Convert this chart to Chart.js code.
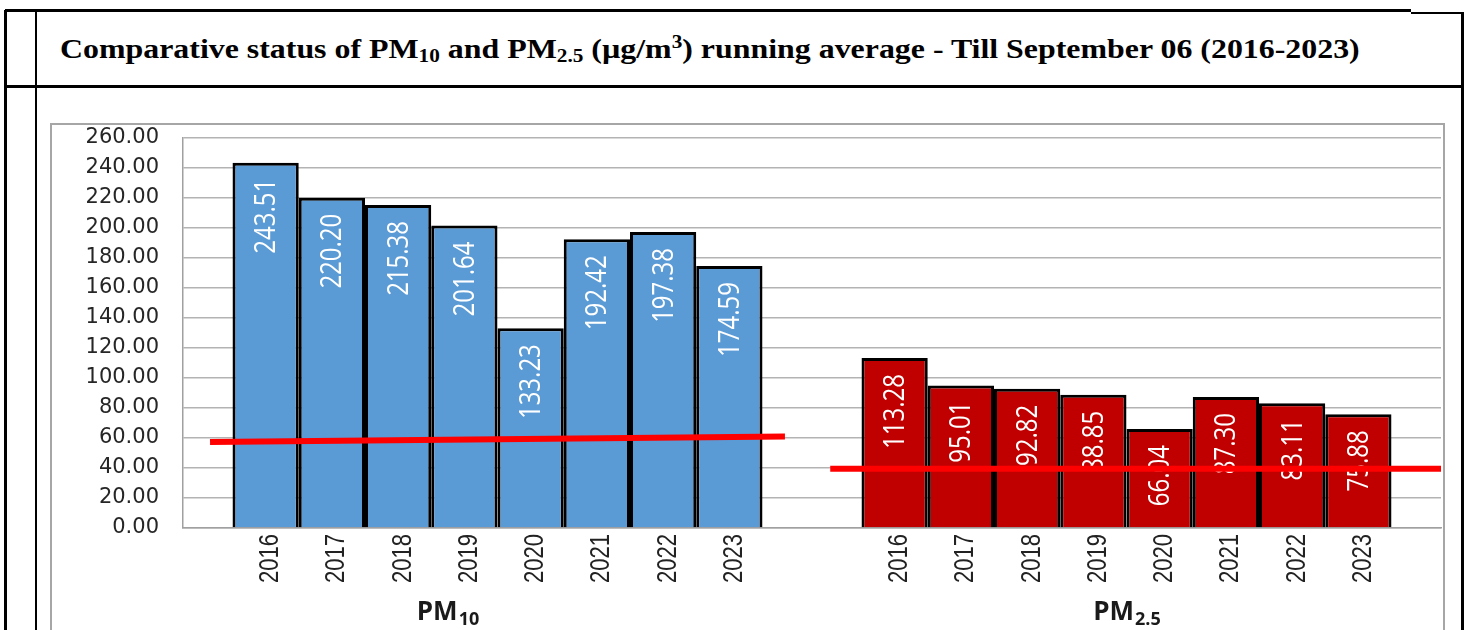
<!DOCTYPE html>
<html>
<head>
<meta charset="utf-8">
<script src="https://cdn.jsdelivr.net/npm/chart.js@4/dist/chart.umd.min.js"></script>
<style>
    body { margin: 0; background: #fff; width: 1464px; height: 630px; overflow: hidden; position: relative; }
    .ln { position: absolute; background: #000; }
    #title {
        position: absolute; left: 60px; top: 34px; white-space: nowrap; transform-origin: 0 0;
        font-family: "Liberation Serif", "Times New Roman", serif; font-weight: bold; font-size: 27px; color: #000;
    }
    #title sub { font-size: 18px; vertical-align: -4px; line-height: 0; }
    #title sup { font-size: 18px; vertical-align: 10px; line-height: 0; }
    #box { position: absolute; left: 50px; top: 123px; width: 1391px; height: 520px; border: 2px solid #a6a6a6; }
    #chartCanvas { position: absolute; left: 51px; top: 125px; }
</style>
</head>
<body>
<!-- table frame -->
<div class="ln" style="left:5px; top:9px; width:1406px; height:3px;"></div>
<div class="ln" style="left:1411px; top:12px; width:53px; height:2px;"></div>
<div class="ln" style="left:4px; top:10px; width:3px; height:620px;"></div>
<div class="ln" style="left:35px; top:12px; width:2px; height:618px;"></div>
<div class="ln" style="left:1461px; top:12px; width:3px; height:618px;"></div>
<div class="ln" style="left:5px; top:85px; width:1459px; height:3px;"></div>

<div id="title">Comparative status of PM<sub>10</sub> and PM<sub>2.5</sub> (µg/m<sup>3</sup>) running average - Till September 06 (2016-2023)</div>

<div id="box"></div>
<canvas id="chartCanvas" width="1391" height="505"></canvas>

<script>
// ==================== Data ====================
const years = ['2016', '2017', '2018', '2019', '2020', '2021', '2022', '2023'];
const groups = ['PM10', 'PM2.5'];
const pm10Values = [243.51, 220.20, 215.38, 201.64, 133.23, 192.42, 197.38, 174.59];
const pm25Values = [113.28, 95.01, 92.82, 88.85, 66.04, 87.30, 83.11, 75.88];
const yTicks = { min: 0, max: 260, step: 20 };

// red standard lines: x in category units (-0.5 .. 1.5), y in µg/m3
const pm10LimitX = [-0.457, 0.457];
const pm10LimitY = [57.3, 61.0];
const pm25LimitX = [0.529, 1.5];
const pm25LimitY = [39.5, 39.5];

const groupColors = ['#5b9bd5', '#c00000'];

// stretch the title to the width it has in the original
const titleEl = document.getElementById('title');
titleEl.style.transform = 'scaleX(' + (1300 / titleEl.offsetWidth) + ')';

// rotated text, stretched across its height like in the original picture
function drawRotated(ctx, text, x, y, font, color, stretch) {
    ctx.save();
    ctx.translate(x, y);
    ctx.rotate(-Math.PI / 2);
    ctx.scale(1, stretch);
    ctx.font = font;
    ctx.fillStyle = color;
    ctx.textAlign = 'right';
    ctx.textBaseline = 'middle';
    ctx.fillText(text, 0, 0);
    ctx.restore();
}

const overlayPlugin = {
    id: 'overlay',
    // value labels inside each bar, drawn right after the bar
    afterDatasetDraw(chart, args) {
        const ds = chart.data.datasets[args.index];
        args.meta.data.forEach((bar, j) => {
            drawRotated(chart.ctx, ds.data[j].toFixed(2), bar.x + 1, bar.y + 16, '24px "Open Sans"', '#ffffff', 1.25);
        });
    },
    // red standard lines on top of bars and labels
    afterDatasetsDraw(chart) {
        const ctx = chart.ctx;
        const xs = chart.scales.x, ys = chart.scales.y;
        ctx.save();
        ctx.strokeStyle = '#ff0000';
        ctx.lineWidth = 6;
        ctx.lineCap = 'butt';
        [[pm10LimitX, pm10LimitY], [pm25LimitX, pm25LimitY]].forEach(([lx, ly]) => {
            ctx.beginPath();
            lx.forEach((v, k) => {
                const px = xs.getPixelForValue(v), py = ys.getPixelForValue(ly[k]);
                if (k === 0) ctx.moveTo(px, py); else ctx.lineTo(px, py);
            });
            ctx.stroke();
        });
        ctx.restore();
    },
    afterDraw(chart) {
        const ctx = chart.ctx;
        const area = chart.chartArea;

        // year labels under each bar
        chart.data.datasets.forEach((ds, i) => {
            chart.getDatasetMeta(i).data.forEach(bar => {
                drawRotated(ctx, ds.label, bar.x + 5, area.bottom + 6, '22px "Liberation Sans"', '#222', 1.22);
            });
        });

        // group labels with subscript
        const xScale = chart.scales.x;
        const shifts = [-50, 0];
        groups.forEach((g, j) => {
            const main = 'PM';
            const sub = g.slice(2);
            ctx.save();
            ctx.fillStyle = '#1a1a1a';
            ctx.textBaseline = 'alphabetic';
            ctx.textAlign = 'left';
            ctx.font = 'bold 26px "Open Sans"';
            const w1 = ctx.measureText(main).width;
            ctx.font = 'bold 18px "Open Sans"';
            const w2 = ctx.measureText(sub).width;
            const cx = xScale.getPixelForValue(j) + shifts[j];
            const x0 = cx - (w1 + w2) / 2;
            const base = area.bottom + 92;
            ctx.font = 'bold 26px "Open Sans"';
            ctx.fillText(main, x0, base);
            ctx.font = 'bold 18px "Open Sans"';
            ctx.fillText(sub, x0 + w1 + 1, base + 5);
            ctx.restore();
        });
    }
};

const datasets = years.map((yr, i) => ({
    label: yr,
    data: [pm10Values[i], pm25Values[i]],
    backgroundColor: groupColors,
    borderColor: '#000000',
    borderWidth: 3,
    categoryPercentage: 0.8426,
    barPercentage: 1.0
}));

new Chart(document.getElementById('chartCanvas'), {
    type: 'bar',
    data: { labels: groups, datasets: datasets },
    options: {
        responsive: false,
        devicePixelRatio: 1,
        animation: false,
        layout: { padding: { top: 13, right: 1, left: 0, bottom: 0 } },
        plugins: { legend: { display: false }, tooltip: { enabled: false } },
        scales: {
            x: {
                offset: true,
                grid: { display: false },
                border: { display: true, color: '#a0a0a0', width: 1.5 },
                ticks: { display: false },
                afterFit: s => { s.height = 102; }
            },
            y: {
                min: yTicks.min,
                max: yTicks.max,
                ticks: {
                    stepSize: yTicks.step,
                    autoSkip: false,
                    padding: 0,
                    color: '#262626',
                    font: { family: '"DejaVu Sans"', size: 21 },
                    callback: v => v.toFixed(2)
                },
                grid: { color: '#b3b3b3', lineWidth: 1.5, drawTicks: true, tickLength: 24, tickColor: 'rgba(0,0,0,0)' },
                border: { display: true, color: '#a0a0a0', width: 1.5 },
                afterFit: s => { s.width = 132; }
            }
        }
    },
    plugins: [overlayPlugin]
});
</script>
</body>
</html>
